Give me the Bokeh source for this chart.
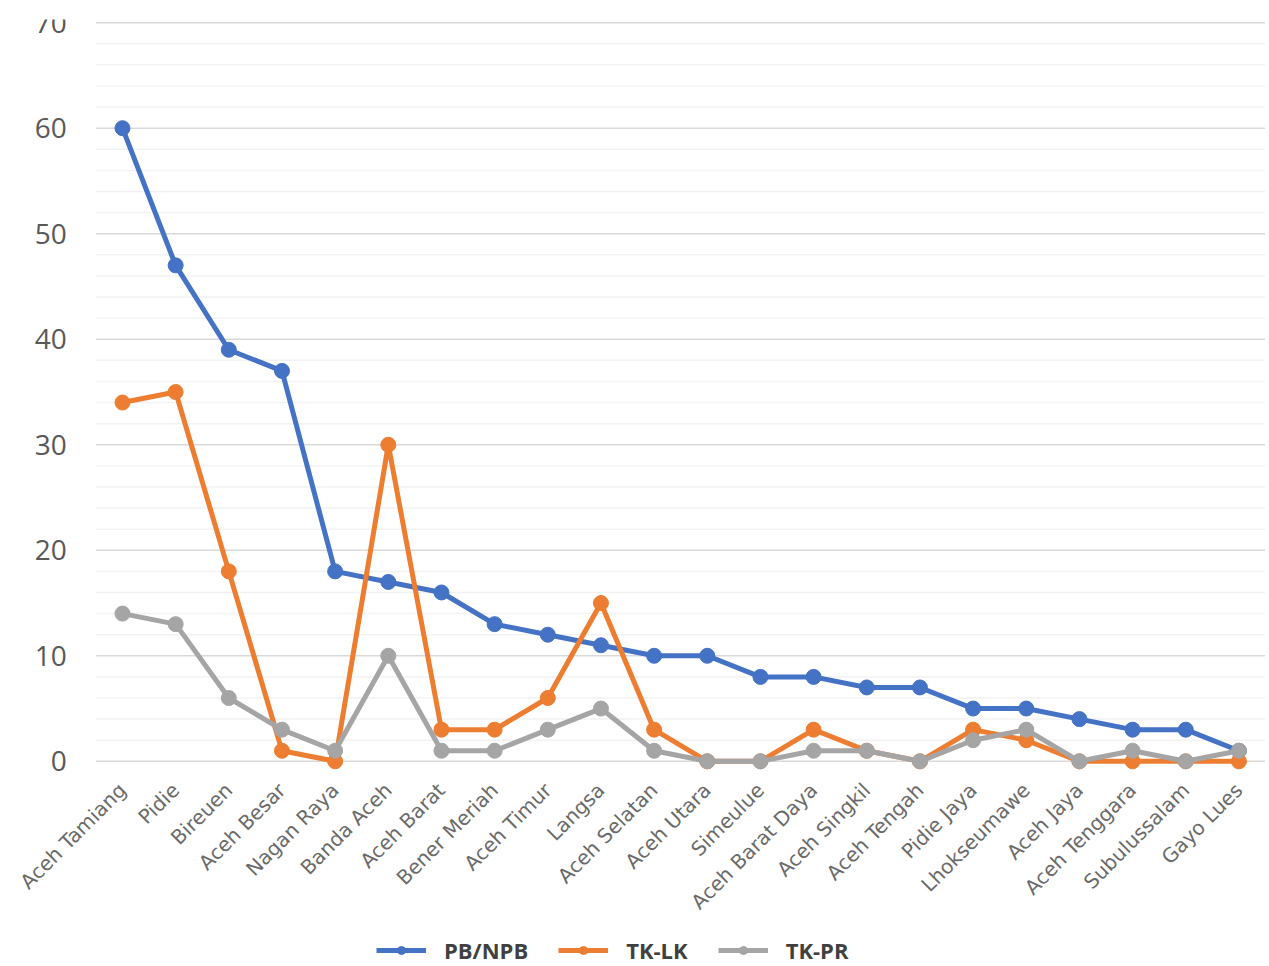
from math import pi
from bokeh.plotting import figure
from bokeh.models import Range1d, Legend, LegendItem, ColumnDataSource
from bokeh.core.properties import value
from bokeh.embed import file_html
from bokeh.resources import INLINE

categories = ["Aceh Tamiang", "Pidie", "Bireuen", "Aceh Besar", "Nagan Raya", "Banda Aceh",
              "Aceh Barat", "Bener Meriah", "Aceh Timur", "Langsa", "Aceh Selatan", "Aceh Utara",
              "Simeulue", "Aceh Barat Daya", "Aceh Singkil", "Aceh Tengah", "Pidie Jaya",
              "Lhokseumawe", "Aceh Jaya", "Aceh Tenggara", "Subulussalam", "Gayo Lues"]
pb_npb = [60, 47, 39, 37, 18, 17, 16, 13, 12, 11, 10, 10, 8, 8, 7, 7, 5, 5, 4, 3, 3, 1]
tk_lk = [34, 35, 18, 1, 0, 30, 3, 3, 6, 15, 3, 0, 0, 3, 1, 0, 3, 2, 0, 0, 0, 0]
tk_pr = [14, 13, 6, 3, 1, 10, 1, 1, 3, 5, 1, 0, 0, 1, 1, 0, 2, 3, 0, 1, 0, 1]
series_names = ["PB/NPB", "TK-LK", "TK-PR"]
y_ticks = [0, 10, 20, 30, 40, 50, 60, 70]
y_minor = [v for v in range(0, 71, 2) if v not in y_ticks]

colors = ["#4472C4", "#ED7D31", "#A5A5A5"]

n = len(categories)
idx = list(range(n))

# the frame spans the whole page so that rotated labels and the legend are not clipped
p = figure(frame_width=1257, frame_height=946, output_backend="svg", toolbar_location=None,
           x_range=Range1d(-2.144, n - 0.5),
           y_range=Range1d(-19.35, 70.3),
           min_border_left=8, min_border_right=0, min_border_top=19, min_border_bottom=0)
p.outline_line_color = None
p.background_fill_color = "white"
p.border_fill_color = "white"
p.xaxis.visible = False
p.yaxis.visible = False
p.xgrid.grid_line_color = None
p.ygrid.grid_line_color = None

# gridlines over the plotting band (category -0.5 .. n-0.5)
gx0, gx1 = -0.5, n - 0.5
p.segment(x0=[gx0] * len(y_minor), x1=[gx1] * len(y_minor), y0=y_minor, y1=y_minor,
          line_color="#f2f2f2", line_width=1.5)
p.segment(x0=[gx0] * len(y_ticks), x1=[gx1] * len(y_ticks), y0=y_ticks, y1=y_ticks,
          line_color="#d9d9d9", line_width=1.5)

# y tick labels
ytick_x = -1.05
p.text(x=[ytick_x] * len(y_ticks), y=y_ticks, text=[str(t) for t in y_ticks],
       text_align="right", text_baseline="middle",
       text_font=value("Open Sans"), text_font_size="28px", text_color="#595959")

# category labels
label_y = -2.4
lab_src = ColumnDataSource(dict(x=idx, y=[label_y] * n, t=categories))
p.text(x="x", y="y", text="t", source=lab_src, angle=pi / 4,
       text_align="right", text_baseline="middle",
       text_font=value("DejaVu Sans"), text_font_size="20px", text_color="#6a6a6a")

items = []
for name, vals, c in zip(series_names, [pb_npb, tk_lk, tk_pr], colors):
    r1 = p.line(idx, vals, line_color=c, line_width=5)
    r2 = p.scatter(idx, vals, size=15, fill_color=c, line_color=c)
    items.append(LegendItem(label=name, renderers=[r1, r2]))

legend = Legend(items=items, orientation="horizontal", location=(368, 0),
                label_text_font="Open Sans", label_text_font_size="22px",
                label_text_font_style="bold", label_text_color="#404040",
                glyph_width=50, glyph_height=20, label_height=20, spacing=30, label_standoff=18,
                border_line_color=None, background_fill_alpha=0, margin=0, padding=2)
p.add_layout(legend, "center")

open("out.html", "w").write(file_html(p, INLINE))
